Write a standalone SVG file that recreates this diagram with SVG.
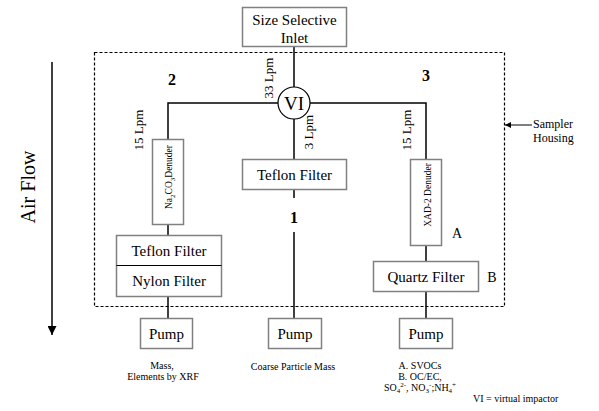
<svg xmlns="http://www.w3.org/2000/svg" width="599" height="411" viewBox="0 0 599 411" font-family="'Liberation Serif', 'Times New Roman', serif">
<defs>
<style>
text{font-family:'Liberation Serif','Times New Roman',serif;fill:#000}
.box{fill:#fff;stroke:#808080;stroke-width:1.5}
.ln{stroke:#000;stroke-width:1.5;fill:none}
.lbl{font-size:15px;text-anchor:middle}
.num{font-size:16px;font-weight:bold;text-anchor:middle}
.rot{font-size:13px;text-anchor:middle}
.sm{font-size:10px;text-anchor:middle}
.den{font-size:9.5px;text-anchor:middle}
</style>
<marker id="ah" viewBox="0 0 10 10" refX="10" refY="5" markerWidth="6" markerHeight="6" orient="auto" markerUnits="userSpaceOnUse">
<path d="M0,0 L10,5 L0,10 z" fill="#000"/>
</marker>
<marker id="ahBig" viewBox="0 0 10 10" refX="10" refY="5" markerWidth="10" markerHeight="9" orient="auto" markerUnits="userSpaceOnUse">
<path d="M0,0 L10,5 L0,10 z" fill="#000"/>
</marker>
</defs>
<rect width="599" height="411" fill="#fff"/>

<g id="housing">
<rect x="94.5" y="52.5" width="410" height="254" fill="none" stroke="#000" stroke-width="1.2" stroke-dasharray="3,2"/>
</g>

<g id="connectors">
<line class="ln" x1="294" y1="46" x2="294" y2="87"/>
<polyline class="ln" points="278,103 168,103 168,139"/>
<polyline class="ln" points="310,103 426,103 426,159"/>
<line class="ln" x1="294" y1="119" x2="294" y2="159"/>
<line class="ln" x1="294" y1="189" x2="294" y2="198"/>
<line class="ln" x1="294" y1="232" x2="294" y2="318"/>
<line class="ln" x1="168" y1="224" x2="168" y2="235"/>
<line class="ln" x1="168" y1="296" x2="168" y2="318"/>
<line class="ln" x1="426" y1="245" x2="426" y2="261"/>
<line class="ln" x1="426" y1="291" x2="426" y2="318"/>
<line x1="532" y1="125" x2="505" y2="125" stroke="#000" stroke-width="1" marker-end="url(#ah)"/>
<line x1="52" y1="62" x2="52" y2="335" stroke="#000" stroke-width="1.5" marker-end="url(#ahBig)"/>
</g>

<g id="inlet">
<rect class="box" x="242.5" y="7.5" width="104" height="39"/>
<text class="lbl" x="294.5" y="25">Size Selective</text>
<text class="lbl" x="294.5" y="43">Inlet</text>
</g>

<g id="vi">
<circle cx="294" cy="103" r="16" fill="#fff" stroke="#000" stroke-width="1.2"/>
<text x="294" y="110" font-size="19" text-anchor="middle">VI</text>
</g>

<g id="teflon-center">
<rect class="box" x="242.5" y="159.5" width="104" height="30"/>
<text class="lbl" x="294.5" y="180">Teflon Filter</text>
</g>

<g id="na2co3-denuder">
<rect class="box" x="152.5" y="139.5" width="31" height="85"/>
<text class="den" transform="translate(172,177) rotate(-90)">Na<tspan font-size="7" dy="2.5">2</tspan><tspan dy="-2.5">CO</tspan><tspan font-size="7" dy="2.5">3</tspan><tspan dy="-2.5">Denuder</tspan></text>
</g>

<g id="teflon-nylon">
<rect class="box" x="116.5" y="235.5" width="105" height="61"/>
<line x1="116.5" y1="265.5" x2="221.5" y2="265.5" stroke="#000" stroke-width="1"/>
<text class="lbl" x="169" y="256">Teflon Filter</text>
<text class="lbl" x="169" y="286">Nylon Filter</text>
</g>

<g id="xad-denuder">
<rect class="box" x="410.5" y="159.5" width="31" height="86"/>
<text class="den" transform="translate(431,195) rotate(-90)">XAD-2 Denuder</text>
</g>

<g id="quartz">
<rect class="box" x="373.5" y="261.5" width="105" height="30"/>
<text class="lbl" x="426" y="282">Quartz Filter</text>
</g>

<g id="pump2">
<rect class="box" x="140.5" y="318.5" width="52" height="30"/>
<text class="lbl" x="166.5" y="339">Pump</text>
</g>
<g id="pump1">
<rect class="box" x="268.5" y="318.5" width="53" height="30"/>
<text class="lbl" x="295" y="339">Pump</text>
</g>
<g id="pump3">
<rect class="box" x="399.5" y="318.5" width="53" height="30"/>
<text class="lbl" x="426" y="339">Pump</text>
</g>

<g id="labels">
<text class="num" x="172" y="85">2</text>
<text class="num" x="426" y="81">3</text>
<text class="num" x="294" y="223">1</text>
<text class="rot" transform="translate(273,78) rotate(-90)">33 Lpm</text>
<text class="rot" transform="translate(143,130) rotate(-90)">15 Lpm</text>
<text class="rot" transform="translate(411,130) rotate(-90)">15 Lpm</text>
<text class="rot" transform="translate(313,132) rotate(-90)">3 Lpm</text>
<text x="457" y="238" font-size="14" text-anchor="middle">A</text>
<text x="492" y="282" font-size="14" text-anchor="middle">B</text>
<text x="533" y="128" font-size="12">Sampler</text>
<text x="533" y="142" font-size="12">Housing</text>
<text transform="translate(35,187) rotate(-90)" font-size="20" text-anchor="middle">Air Flow</text>
<text class="sm" x="162" y="369">Mass,</text>
<text class="sm" x="163" y="380">Elements by XRF</text>
<text class="sm" x="293" y="370">Coarse Particle Mass</text>
<text class="sm" x="420" y="369">A. SVOCs</text>
<text class="sm" x="420" y="380">B. OC/EC,</text>
<text class="sm" x="420" y="391">SO<tspan font-size="7" dy="2">4</tspan><tspan font-size="7" dy="-6">2-</tspan><tspan dy="4">, NO</tspan><tspan font-size="7" dy="2">3</tspan><tspan font-size="7" dy="-6">-</tspan><tspan dy="4">;NH</tspan><tspan font-size="7" dy="2">4</tspan><tspan font-size="7" dy="-6">+</tspan></text>
<text x="473" y="402" font-size="10">VI = virtual impactor</text>
</g>
</svg>
